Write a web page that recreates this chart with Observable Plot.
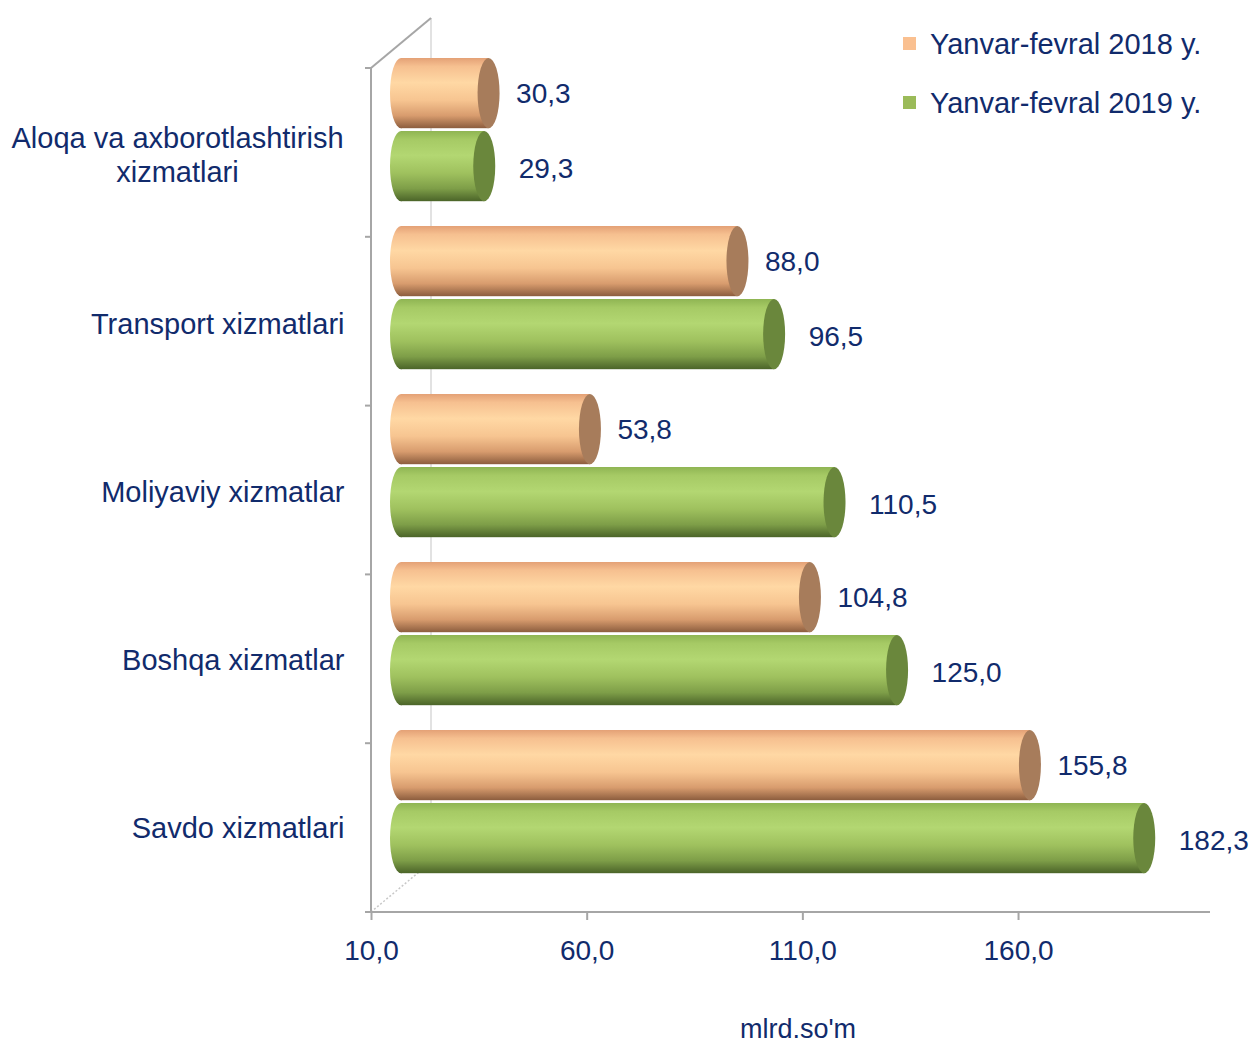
<!DOCTYPE html>
<html>
<head>
<meta charset="utf-8">
<script src="https://cdn.jsdelivr.net/npm/d3@7"></script>
<script src="https://cdn.jsdelivr.net/npm/@observablehq/plot@0.6"></script>
<style>
  html, body { margin: 0; padding: 0; background: #fff; overflow: hidden; }
  #wrap { position: relative; width: 1260px; height: 1043px; font-family: "Liberation Sans", Arial, sans-serif; color: #112B6C; }
  #chart svg { display: block; }
  .legend { position: absolute; left: 903px; top: 26px; font-size: 29px; }
  .legend .item { position: relative; height: 36px; line-height: 36px; padding-left: 27px; white-space: nowrap; }
  .legend .item + .item { margin-top: 23px; }
  .legend .sw { position: absolute; left: 0; top: 11px; width: 13px; height: 13px; }
  .unit { position: absolute; left: 0; width: 1596px; top: 1014px; text-align: center; font-size: 27px; line-height: 30px; }
  g[aria-label="x-axis tick"] path, g[aria-label="x-axis"] .tick line { stroke: #A6A6A6; stroke-width: 2; }
</style>
</head>
<body>
<div id="wrap">
  <div id="chart"></div>
  <div class="legend" id="legend"></div>
  <div class="unit" id="unit"></div>
</div>
<script>
// ---- data ----
const categories = [
  "Aloqa va axborotlashtirish\nxizmatlari",
  "Transport xizmatlari",
  "Moliyaviy xizmatlar",
  "Boshqa xizmatlar",
  "Savdo xizmatlari"
];
const seriesNames = ["Yanvar-fevral 2018 y.", "Yanvar-fevral 2019 y."];
const values2018 = [30.3, 88.0, 53.8, 104.8, 155.8];
const values2019 = [29.3, 96.5, 110.5, 125.0, 182.3];
const xTicks = [10, 60, 110, 160];
const unitLabel = "mlrd.so'm";

// ---- style / layout ----
const navy = "#112B6C";
const axisGray = "#A6A6A6";
const capColors = ["#A77C5B", "#6A873C"];
const swatchColors = ["#FAC090", "#9BBB59"];
const gradIds = ["cylOrange", "cylGreen"];
const gradStops = [
  [[0, "#E4A176"], [0.12, "#F6C090"], [0.35, "#FFD8A4"], [0.6, "#F7C591"], [0.82, "#D89C6E"], [1, "#8C5D3E"]],
  [[0, "#8FB553"], [0.12, "#A6CA65"], [0.35, "#B3D772"], [0.6, "#9FC15E"], [0.82, "#7E9E48"], [1, "#4B6429"]]
];
const W = 1260, H = 1043;
const mt = 68, mb = 131, ml = 371, mr = 50;
const depthX = 60, depthY = 50;      // 3D wall depth
const shiftX = 30, shiftY = 25;      // bars sit at mid depth
const step = (H - mt - mb) / categories.length;
const barH = 71;
const insets = [
  {top: 13, bottom: step - 13 - barH},
  {top: 86, bottom: step - 86 - barH}
];
const capRx = 11;
const labelDx = [57, 64];
const labelDy = [-60, 15];
const fontFamily = "'Liberation Sans', Arial, sans-serif";
const fmt = d => d3.format(".1f")(d).replace(".", ",");
const xMin = xTicks[0];

const rows = [];
categories.forEach((c, i) => {
  rows.push({category: c, series: 0, value: values2018[i]});
  rows.push({category: c, series: 1, value: values2019[i]});
});

function backDecor(index, scales, values, dims) {
  const {height, marginTop, marginLeft, marginBottom} = dims;
  const g = d3.create("svg:g");
  const defs = g.append("defs");
  gradIds.forEach((id, k) => {
    const lg = defs.append("linearGradient").attr("id", id)
      .attr("x1", 0).attr("y1", 0).attr("x2", 0).attr("y2", 1);
    gradStops[k].forEach(([o, c]) => lg.append("stop").attr("offset", o).attr("stop-color", c));
  });
  const x0 = marginLeft, yT = marginTop, yB = height - marginBottom;
  g.append("line").attr("x1", x0 + depthX).attr("x2", x0 + depthX)
    .attr("y1", yT - depthY).attr("y2", yB - depthY)
    .attr("stroke", "#D9D9D9").attr("stroke-width", 1.5);
  g.append("line").attr("x1", x0).attr("y1", yB).attr("x2", x0 + depthX).attr("y2", yB - depthY)
    .attr("stroke", "#C8C8C8").attr("stroke-width", 1.5).attr("stroke-dasharray", "2,2");
  return g.node();
}

function frontDecor(index, scales, values, dims) {
  const {width, height, marginTop, marginLeft, marginRight, marginBottom} = dims;
  const g = d3.create("svg:g").attr("stroke", axisGray).attr("stroke-width", 2).attr("fill", "none");
  const x0 = marginLeft, yT = marginTop, yB = height - marginBottom;
  g.append("line").attr("x1", x0).attr("y1", yT).attr("x2", x0 + depthX).attr("y2", yT - depthY);
  g.append("line").attr("x1", x0).attr("y1", yT).attr("x2", x0).attr("y2", yB);
  g.append("line").attr("x1", x0 - 6).attr("y1", yB).attr("x2", width - marginRight).attr("y2", yB);
  for (let i = 0; i < categories.length; i++) {
    const y = yT + i * step;
    g.append("line").attr("x1", x0 - 6).attr("y1", y).attr("x2", x0).attr("y2", y);
  }
  return g.node();
}

const barMarks = [];
[0, 1].forEach(s => {
  const data = rows.filter(r => r.series === s);
  const common = {y: "category", insetTop: insets[s].top, insetBottom: insets[s].bottom, dx: shiftX, dy: -shiftY};
  // far (left) end of cylinder
  barMarks.push(Plot.barX(data, {...common, x1: () => xMin, x2: () => xMin, insetLeft: -capRx, insetRight: -capRx,
    rx: capRx, ry: barH / 2, fill: `url(#${gradIds[s]})`}));
  // body
  barMarks.push(Plot.barX(data, {...common, x1: () => xMin, x2: "value", fill: `url(#${gradIds[s]})`}));
  // near (right) end cap
  barMarks.push(Plot.barX(data, {...common, x1: "value", x2: "value", insetLeft: -capRx, insetRight: -capRx,
    rx: capRx, ry: barH / 2, fill: capColors[s]}));
  // value labels
  barMarks.push(Plot.text(data, {x: "value", y: "category", text: d => fmt(d.value), textAnchor: "start",
    dx: labelDx[s], dy: labelDy[s], fill: navy, fontSize: 28, fontFamily}));
});

const singleLine = categories.filter(c => !c.includes("\n"));
const multiLine = categories.filter(c => c.includes("\n"));

const chart = Plot.plot({
  width: W,
  height: H,
  marginTop: mt,
  marginBottom: mb,
  marginLeft: ml,
  marginRight: mr,
  style: {fontFamily, fontSize: "28px", color: navy, background: "white", overflow: "visible"},
  x: {domain: [xMin, 204.5], ticks: xTicks, tickFormat: fmt, tickSize: 8, tickPadding: 20, label: null},
  y: {domain: categories, padding: 0, axis: null},
  marks: [
    backDecor,
    ...barMarks,
    frontDecor,
    Plot.text(singleLine, {y: d => d, frameAnchor: "left", textAnchor: "end", dx: -27, dy: 2,
      fill: navy, fontSize: 29, fontFamily}),
    Plot.text(multiLine, {y: d => d, frameAnchor: "left", textAnchor: "middle", dx: -194, dy: 0,
      lineHeight: 1.16, fill: navy, fontSize: 29, fontFamily})
  ]
});
document.getElementById("chart").appendChild(chart);

// legend
const legend = document.getElementById("legend");
seriesNames.forEach((name, i) => {
  const item = document.createElement("div");
  item.className = "item";
  const sw = document.createElement("span");
  sw.className = "sw";
  sw.style.background = swatchColors[i];
  item.appendChild(sw);
  item.appendChild(document.createTextNode(name));
  legend.appendChild(item);
});
document.getElementById("unit").textContent = unitLabel;
</script>
</body>
</html>
